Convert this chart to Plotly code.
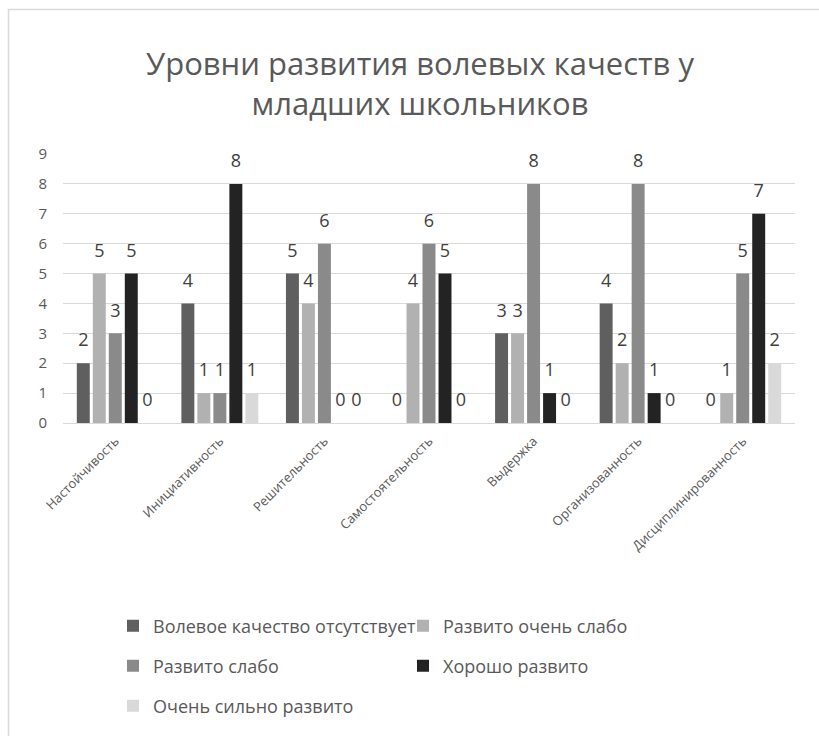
import plotly.graph_objects as go

categories = ["Настойчивость", "Инициативность", "Решительность", "Самостоятельность",
              "Выдержка", "Организованность", "Дисциплинированность"]
series_names = ["Волевое качество отсутствует", "Развито очень слабо", "Развито слабо",
                "Хорошо развито", "Очень сильно развито"]
absent = [2, 4, 5, 0, 3, 4, 0]
very_weak = [5, 1, 4, 4, 3, 2, 1]
weak = [3, 1, 6, 6, 8, 8, 5]
good = [5, 8, 0, 5, 1, 1, 7]
very_strong = [0, 1, 0, 0, 0, 0, 2]
series_values = [absent, very_weak, weak, good, very_strong]
colors = ["#5f5f5f", "#b1b1b1", "#8a8a8a", "#232323", "#d9d9d9"]
legend_ids = ["legend", "legend", "legend2", "legend2", "legend3"]

FONT = "Open Sans"
W, H = 819, 736
ML, MR, MT, MB = 63, 24, 154, 313
PW, PH = W - ML - MR, H - MT - MB
BARGAP = 0.235


def px_x(p):
    return (p - ML) / PW


def px_y(p):
    return (H - MB - p) / PH


fig = go.Figure()
for name, vals, col, lg in zip(series_names, series_values, colors, legend_ids):
    fig.add_trace(go.Bar(
        x=categories, y=vals, name=name, marker=dict(color=col, line=dict(width=0)),
        legend=lg, hoverinfo="skip",
    ))
# data labels, grouped the same way as the bars
for name, vals in zip(series_names, series_values):
    fig.add_trace(go.Scatter(
        x=categories, y=vals, mode="markers+text", text=[str(v) for v in vals],
        textposition="top center", cliponaxis=False, showlegend=False, hoverinfo="skip",
        marker=dict(size=18, color="rgba(0,0,0,0)", line=dict(width=0)),
        textfont=dict(family=FONT, size=18, color="#404040"), name=name,
    ))

legend_common = dict(orientation="h", xanchor="left", yanchor="middle",
                     font=dict(family=FONT, size=18, color="#595959"),
                     entrywidth=245, entrywidthmode="pixels", bgcolor="rgba(0,0,0,0)",
                     itemclick=False, itemdoubleclick=False)

fig.update_layout(
    width=W, height=H,
    margin=dict(l=ML, r=MR, t=MT, b=MB, pad=0),
    paper_bgcolor="white", plot_bgcolor="white",
    barmode="group", bargap=BARGAP, bargroupgap=0.19,
    scattermode="group", scattergap=BARGAP,
    font=dict(family=FONT, color="#595959"),
    title=dict(text="Уровни развития волевых качеств у<br>младших школьников",
               x=420 / W, xref="container", xanchor="center", y=1 - 75 / H, yref="container",
               yanchor="middle", font=dict(family=FONT, size=31, color="#595959")),
    xaxis=dict(tickangle=-45, tickfont=dict(family=FONT, size=13, color="#595959"),
               showgrid=False, showline=False, ticks="", ticklabelstandoff=7),
    yaxis=dict(range=[0, 9], dtick=1, tickfont=dict(family=FONT, size=15, color="#595959"),
               gridcolor="#d9d9d9", gridwidth=1.3, zeroline=True, zerolinecolor="#d9d9d9",
               zerolinewidth=1.3, showline=False, ticks="", ticklabelstandoff=15),
    legend=dict(legend_common, x=px_x(113), y=px_y(626)),
    legend2=dict(legend_common, x=px_x(113), y=px_y(666)),
    legend3=dict(legend_common, x=px_x(113), y=px_y(706)),
    showlegend=True,
    shapes=[dict(type="rect", xref="paper", yref="paper",
                 x0=px_x(8.5), x1=px_x(W + 20), y0=px_y(H + 20), y1=px_y(9.5),
                 line=dict(color="#d9d9d9", width=1.5), fillcolor="rgba(0,0,0,0)", layer="below")],
)

fig.write_html("out.html")
